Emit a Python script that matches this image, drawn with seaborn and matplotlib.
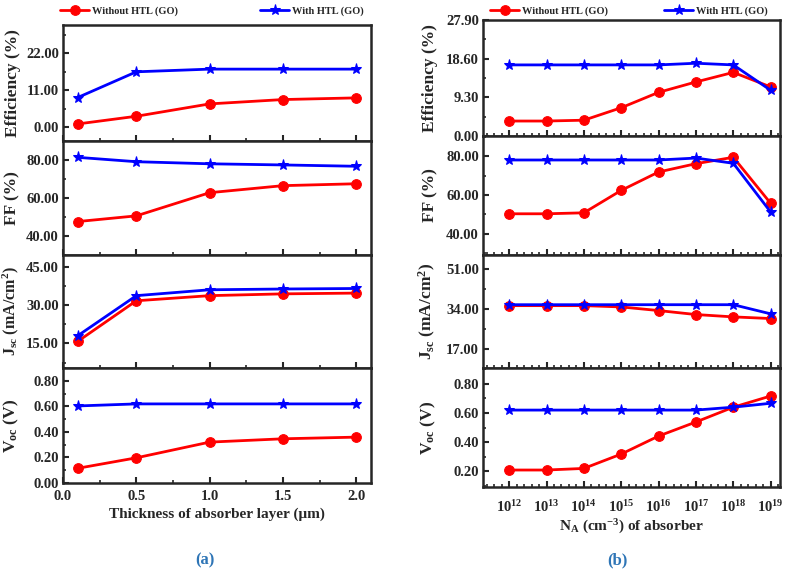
import numpy as np
import pandas as pd
import seaborn as sns
import matplotlib
matplotlib.use("Agg")
import matplotlib.pyplot as plt
from matplotlib.ticker import MultipleLocator, FixedLocator, FormatStrFormatter

# ---- datos (a): espesor del absorbedor ----
espesor = [0.1, 0.5, 1.0, 1.5, 2.0]
eff_sin_a = [0.9, 3.2, 6.9, 8.2, 8.7]
eff_con_a = [8.8, 16.5, 17.3, 17.3, 17.3]
ff_sin_a = [47.6, 50.6, 62.8, 66.5, 67.5]
ff_con_a = [81.4, 79.1, 78.0, 77.4, 76.7]
jsc_sin_a = [15.8, 31.7, 33.7, 34.4, 34.7]
jsc_con_a = [18.0, 33.7, 36.0, 36.3, 36.5]
voc_sin_a = [0.115, 0.197, 0.320, 0.346, 0.359]
voc_con_a = [0.603, 0.619, 0.619, 0.619, 0.619]

# ---- datos (b): dopaje N_A (exponente de 10) ----
na_exp = [12, 13, 14, 15, 16, 17, 18, 19]
na_labels = ["$10^{12}$", "$10^{13}$", "$10^{14}$", "$10^{15}$",
             "$10^{16}$", "$10^{17}$", "$10^{18}$", "$10^{19}$"]
eff_sin_b = [3.6, 3.6, 3.8, 6.8, 10.5, 13.0, 15.3, 11.8]
eff_con_b = [17.1, 17.1, 17.1, 17.1, 17.1, 17.5, 17.1, 11.0]
ff_sin_b = [50.3, 50.3, 50.8, 62.4, 71.9, 76.2, 79.5, 55.7]
ff_con_b = [78.1, 78.1, 78.1, 78.1, 78.1, 79.1, 76.4, 51.2]
jsc_sin_b = [35.4, 35.4, 35.4, 34.85, 33.3, 31.6, 30.6, 29.9]
jsc_con_b = [35.8, 35.8, 35.8, 35.8, 35.8, 35.8, 35.8, 31.9]
voc_sin_b = [0.207, 0.207, 0.218, 0.317, 0.441, 0.538, 0.640, 0.717]
voc_con_b = [0.620, 0.620, 0.620, 0.620, 0.620, 0.620, 0.640, 0.667]

sns.set_style("ticks")
plt.rcParams["font.family"] = ["Liberation Serif", "DejaVu Serif"]
plt.rcParams["font.weight"] = "bold"
plt.rcParams["mathtext.fontset"] = "custom"
plt.rcParams["mathtext.rm"] = "Liberation Serif:bold"
plt.rcParams["mathtext.it"] = "Liberation Serif:bold"
plt.rcParams["mathtext.bf"] = "Liberation Serif:bold"
plt.rcParams["mathtext.default"] = "regular"

W, H = 789, 570
fig = plt.figure(figsize=(W / 100, H / 100), dpi=100)

def caja(x0, x1, y0, y1):
    # pixeles -> fracciones de figura
    return [x0 / W, 1 - y1 / H, (x1 - x0) / W, (y1 - y0) / H]

def panel(rect, x, sin, con, ylim, yticks, ylabel, xlim, labx, labsize=12.5):
    ax = fig.add_axes(rect)
    sns.lineplot(x=x, y=sin, ax=ax, color="#ff0000", marker="o", markersize=7,
                 markeredgecolor="#ff0000", linewidth=2, label="Without HTL (GO)")
    sns.lineplot(x=x, y=con, ax=ax, color="#0000ff", marker="*", markersize=8,
                 markeredgecolor="#0000ff", linewidth=2, label="With HTL (GO)")
    ax.get_legend().remove()
    ax.set_xlim(xlim)
    ax.set_ylim(ylim)
    ax.yaxis.set_major_locator(FixedLocator(yticks))
    ax.yaxis.set_minor_locator(MultipleLocator((yticks[1] - yticks[0]) / 2))
    ax.yaxis.set_major_formatter(FormatStrFormatter("%.2f"))
    ax.set_ylabel(ylabel, fontsize=labsize, fontweight="bold")
    ax.yaxis.set_label_coords(labx, 0.5)
    ax.tick_params(axis="both", which="major", direction="in", length=4, width=1.5,
                   labelsize=10.5, pad=3)
    ax.tick_params(axis="both", which="minor", direction="in", length=2.5, width=1.2)
    for s in ax.spines.values():
        s.set_linewidth(1.8)
    return ax

# ---- panel (a) ----
filas_a = [(25, 141), (141, 255), (255, 368), (368, 483)]
datos_a = [
    (eff_sin_a, eff_con_a, (-4.2, 30.5), [0, 11, 22], "Efficiency (%)", 12.5),
    (ff_sin_a, ff_con_a, (30, 90), [40, 60, 80], "FF (%)", 12.5),
    (jsc_sin_a, jsc_con_a, (5.4, 49.6), [15, 30, 45], "J$_{sc}$ (mA/cm$^2$)", 11.5),
    (voc_sin_a, voc_con_a, (0, 0.9), [0, 0.2, 0.4, 0.6, 0.8], "V$_{oc}$ (V)", 12.5),
]
ejes_a = []
for (y0, y1), (s, c, yl, yt, lab, fs) in zip(filas_a, datos_a):
    ax = panel(caja(63, 371, y0, y1), espesor, s, c, yl, yt, lab, (0, 2.1), -0.137, fs)
    ax.xaxis.set_major_locator(MultipleLocator(0.5))
    ax.xaxis.set_minor_locator(MultipleLocator(0.25))
    ax.xaxis.set_major_formatter(FormatStrFormatter("%.1f"))
    ejes_a.append(ax)
for ax in ejes_a[:-1]:
    ax.tick_params(labelbottom=False)
ejes_a[-1].tick_params(axis="x", which="major", pad=5)
ejes_a[-1].set_xlabel("Thickness of absorber layer (\u03bcm)", fontsize=11,
                      fontweight="bold", labelpad=3)

# ---- panel (b) ----
filas_b = [(20, 136), (136, 255), (255, 368), (368, 487)]
datos_b = [
    (eff_sin_b, eff_con_b, (0, 27.9), [0, 9.3, 18.6, 27.9], "Efficiency (%)"),
    (ff_sin_b, ff_con_b, (29, 90.5), [40, 60, 80], "FF (%)"),
    (jsc_sin_b, jsc_con_b, (8.8, 57), [17, 34, 51], "J$_{sc}$ (mA/cm$^2$)"),
    (voc_sin_b, voc_con_b, (0.09, 0.91), [0.2, 0.4, 0.6, 0.8], "V$_{oc}$ (V)"),
]
ejes_b = []
for (y0, y1), (s, c, yl, yt, lab) in zip(filas_b, datos_b):
    ax = panel(caja(483, 780, y0, y1), na_exp, s, c, yl, yt, lab, (11.3, 19.25), -0.15)
    ax.xaxis.set_major_locator(FixedLocator(na_exp))
    ax.xaxis.set_minor_locator(MultipleLocator(0.2))
    ejes_b.append(ax)
for ax in ejes_b[:-1]:
    ax.tick_params(labelbottom=False)
ejes_b[-1].set_xticklabels(na_labels)
ejes_b[-1].tick_params(axis="x", which="major", pad=9, labelsize=10.5)
ejes_b[-1].set_xlabel("N$_A$ (cm$^{-3}$) of absorber", fontsize=11,
                      fontweight="bold", labelpad=2)

# ---- leyendas ----
h, l = ejes_a[0].get_legend_handles_labels()
prop = {"family": "Liberation Serif", "weight": "bold", "size": 7.5}
legs = [(h[0], l[0], 60), (h[1], l[1], 260), (h[0], l[0], 490), (h[1], l[1], 664)]
for hh, ll, xp in legs:
    fig.legend([hh], [ll], loc="center left", bbox_to_anchor=(xp / W, 1 - 11 / H),
               frameon=False, prop=prop, handlelength=2.8, handletextpad=0.3,
               borderpad=0, borderaxespad=0)

fig.text(205 / W, 1 - 560 / H, "(a)", color="#2e75b6", fontsize=12,
         fontweight="bold", ha="center", va="center")
fig.text(617 / W, 1 - 560 / H, "(b)", color="#2e75b6", fontsize=12,
         fontweight="bold", ha="center", va="center")

fig.savefig("out.png", dpi=100)
